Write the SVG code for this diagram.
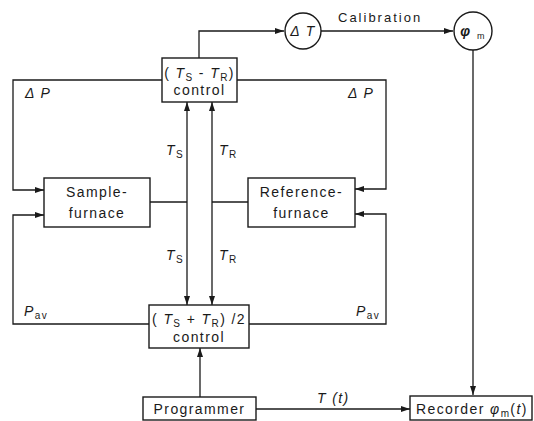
<svg xmlns="http://www.w3.org/2000/svg" width="534" height="421" viewBox="0 0 534 421">
<defs>
<marker id="ah" markerWidth="9" markerHeight="6" refX="9" refY="3" orient="auto" markerUnits="userSpaceOnUse">
<path d="M0,0 L9,3 L0,6 Z" fill="#1a1a1a"/>
</marker>
<style>
.box{fill:#fff;stroke:#1a1a1a;stroke-width:1.4}
.ln{fill:none;stroke:#1a1a1a;stroke-width:1.3}
text{font-family:"Liberation Sans","DejaVu Sans",sans-serif;fill:#1a1a1a}
.lbl{font-size:14px;letter-spacing:1.4px}
.it{font-style:italic}
.sub{font-size:10px;font-style:normal}
</style>
</defs>
<rect width="534" height="421" fill="#fff"/>
<g id="connectors">
<path class="ln" d="M199,58 V31 H284" marker-end="url(#ah)"/>
<path class="ln" d="M321,31 H453" marker-end="url(#ah)"/>
<path class="ln" d="M473,50 V395" marker-end="url(#ah)"/>
<path class="ln" d="M162,80 H13 V190 H44" marker-end="url(#ah)"/>
<path class="ln" d="M237,80 H386 V189 H355" marker-end="url(#ah)"/>
<path class="ln" d="M149,324 H13 V215 H44" marker-end="url(#ah)"/>
<path class="ln" d="M249,324 H386 V214 H355" marker-end="url(#ah)"/>
<path class="ln" d="M187,202 V102" marker-end="url(#ah)"/>
<path class="ln" d="M187,202 V305" marker-end="url(#ah)"/>
<path class="ln" d="M150,202 H187"/>
<path class="ln" d="M212,202 V102" marker-end="url(#ah)"/>
<path class="ln" d="M212,202 V305" marker-end="url(#ah)"/>
<path class="ln" d="M248,202 H212"/>
<path class="ln" d="M200,397 V348" marker-end="url(#ah)"/>
<path class="ln" d="M256,409 H410" marker-end="url(#ah)"/>
<text class="lbl" x="338" y="22" style="font-size:13px;letter-spacing:2px">Calibration</text>
<text class="lbl it" x="25" y="98">Δ P</text>
<text class="lbl it" x="348" y="98">Δ P</text>
<text class="lbl it" x="24" y="316">P<tspan class="sub" dy="3">av</tspan></text>
<text class="lbl it" x="356" y="316">P<tspan class="sub" dy="3">av</tspan></text>
<text class="lbl it" x="166" y="155">T<tspan class="sub" dy="3">S</tspan></text>
<text class="lbl it" x="219" y="155">T<tspan class="sub" dy="3">R</tspan></text>
<text class="lbl it" x="166" y="260">T<tspan class="sub" dy="3">S</tspan></text>
<text class="lbl it" x="219" y="260">T<tspan class="sub" dy="3">R</tspan></text>
<text class="lbl it" x="317" y="403">T (t)</text>
</g>
<g id="diff-control">
<rect class="box" x="162" y="58" width="75" height="44"/>
<text class="lbl" x="199.5" y="78" text-anchor="middle">( <tspan class="it">T</tspan><tspan class="sub" dy="3">S</tspan><tspan dy="-3"> - </tspan><tspan class="it">T</tspan><tspan class="sub" dy="3">R</tspan><tspan dy="-3">)</tspan></text>
<text class="lbl" x="199.5" y="95" text-anchor="middle">control</text>
</g>
<g id="delta-t">
<circle class="box" cx="303" cy="31" r="18"/>
<text class="lbl it" x="303" y="36" text-anchor="middle">Δ T</text>
</g>
<g id="phi-m">
<circle class="box" cx="473" cy="31" r="19"/>
<text class="lbl it" x="466" y="36" text-anchor="middle" style="font-weight:bold">φ</text>
<text x="477" y="39" style="font-size:9px">m</text>
</g>
<g id="sample-furnace">
<rect class="box" x="44" y="178" width="106" height="49"/>
<text class="lbl" x="97" y="197" text-anchor="middle">Sample-</text>
<text class="lbl" x="97" y="218" text-anchor="middle">furnace</text>
</g>
<g id="reference-furnace">
<rect class="box" x="248" y="178" width="107" height="49"/>
<text class="lbl" x="301.5" y="197" text-anchor="middle">Reference-</text>
<text class="lbl" x="301.5" y="218" text-anchor="middle">furnace</text>
</g>
<g id="avg-control">
<rect class="box" x="149" y="305" width="100" height="43"/>
<text class="lbl" x="199" y="324" text-anchor="middle">( <tspan class="it">T</tspan><tspan class="sub" dy="3">S</tspan><tspan dy="-3"> + </tspan><tspan class="it">T</tspan><tspan class="sub" dy="3">R</tspan><tspan dy="-3">) /2</tspan></text>
<text class="lbl" x="199" y="342" text-anchor="middle">control</text>
</g>
<g id="programmer">
<rect class="box" x="143" y="397" width="113" height="23"/>
<text class="lbl" x="199.5" y="414" text-anchor="middle">Programmer</text>
</g>
<g id="recorder">
<rect class="box" x="410" y="396" width="122" height="24"/>
<text class="lbl" x="416" y="414">Recorder <tspan class="it">φ</tspan><tspan class="sub" dy="3">m</tspan><tspan dy="-3">(</tspan><tspan class="it">t</tspan>)</text>
</g>
</svg>
